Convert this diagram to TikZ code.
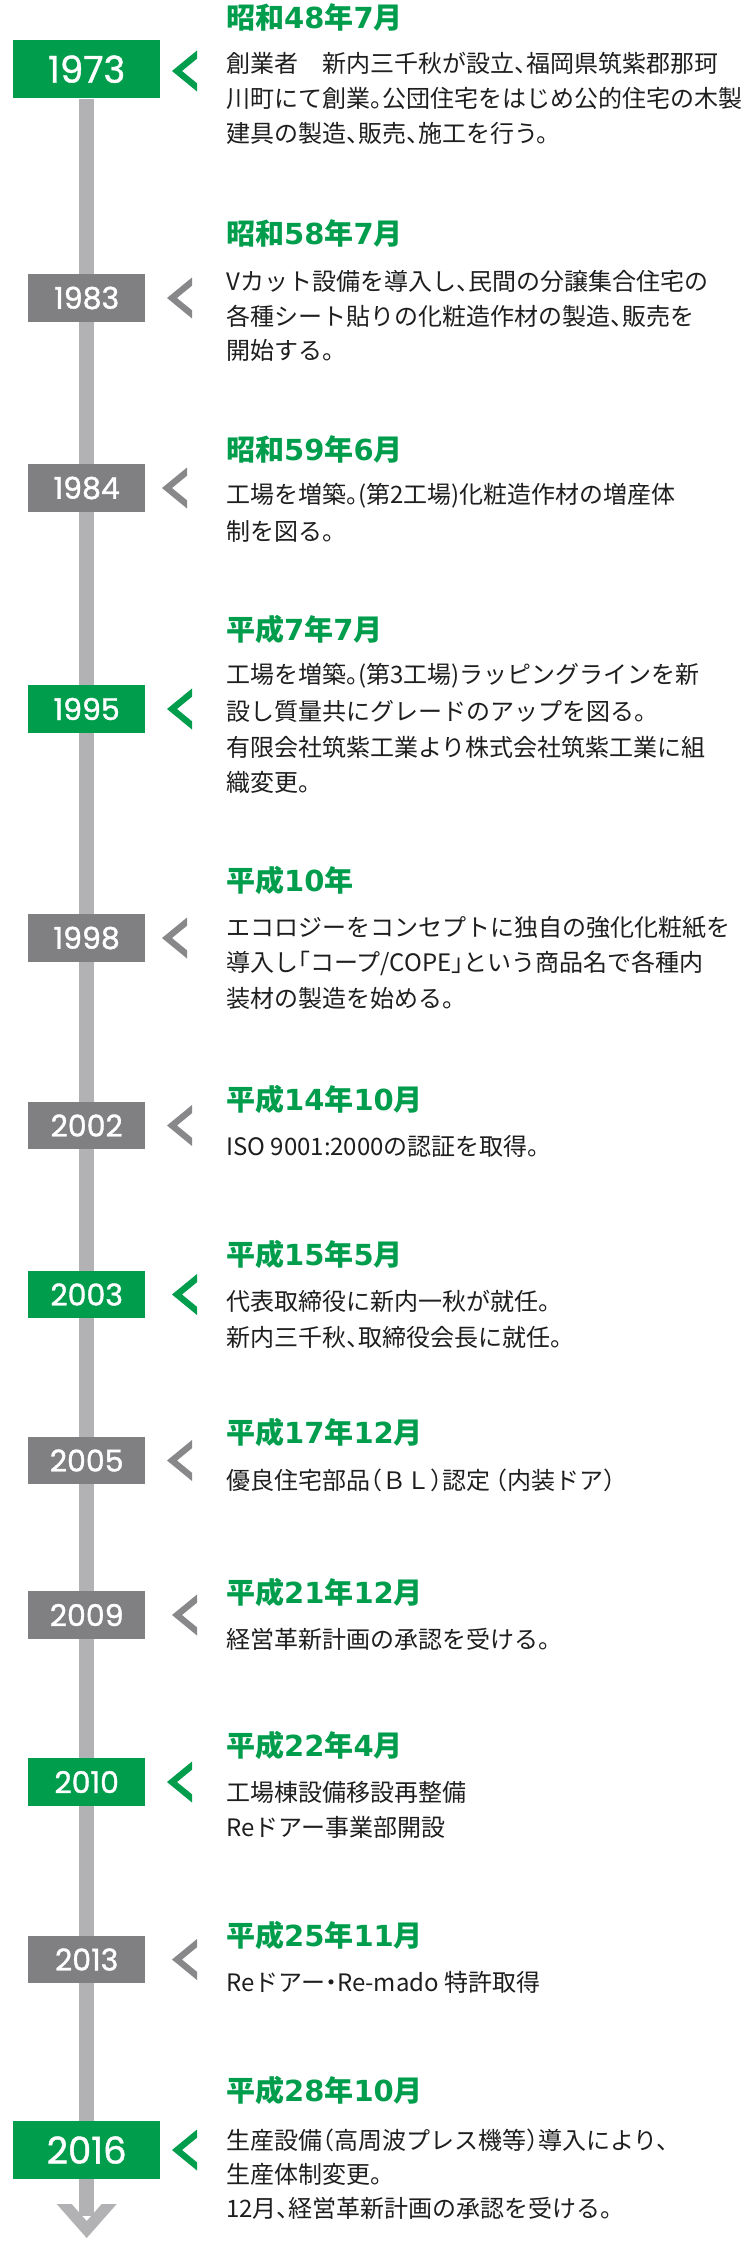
\documentclass[tikz,border=0pt]{standalone}
\usepackage{fontspec}
\usetikzlibrary{backgrounds}
\newfontfamily\jp{Noto Sans CJK JP}[RawFeature={+halt}]
\newfontfamily\jpt{Noto Sans CJK JP}
\newfontfamily\yr{Poppins}[FakeBold=1.2]
\newfontfamily\yrb{DejaVu Sans}
\definecolor{tgreen}{RGB}{0,157,76}
\definecolor{tgray}{RGB}{128,128,130}
\definecolor{lgray}{RGB}{178,178,180}
\definecolor{cgray}{RGB}{136,136,138}
\definecolor{ink}{RGB}{30,30,30}
\newcommand{\dg}[1]{{\yrb\bfseries\fontsize{29bp}{29bp}\selectfont #1}}
\newcommand{\chev}[3]{\fill[#3] ({#1},{#2-20.5}) -- ({#1-25},{#2}) -- ({#1},{#2+20.5}) -- ({#1},{#2+12.3}) -- ({#1-15},{#2}) -- ({#1},{#2-12.3}) -- cycle;}
\tikzset{
  ev/.style={anchor=west, inner sep=0pt, text=ink, font=\jp\fontsize{24bp}{24bp}\selectfont},
  ttl/.style={anchor=west, inner sep=0pt, text=tgreen, font=\jpt\bfseries\fontsize{29bp}{29bp}\selectfont},
  bigyr/.style={fill=tgreen, minimum width=146.7bp, minimum height=58.3bp, inner sep=0pt, text=white, font=\yr\fontsize{37bp}{37bp}\selectfont},
  yrg/.style={fill=tgreen, minimum width=116.7bp, minimum height=47.5bp, inner sep=0pt, text=white, font=\yr\fontsize{30bp}{30bp}\selectfont},
  yrk/.style={yrg, fill=tgray},
}
\begin{document}
\begin{tikzpicture}[x=1bp, y={(0bp,-1bp)}]
\useasboundingbox (0,0) rectangle (752,2242);

% year boxes
\node[bigyr] (y1973) at (86.7,69.2) {1973};
\node[yrk] (y1983) at (86.7,298) {1983};
\node[yrk] (y1984) at (86.7,488) {1984};
\node[yrg] (y1995) at (86.7,709) {1995};
\node[yrk] (y1998) at (86.7,938) {1998};
\node[yrk] (y2002) at (86.7,1125.5) {2002};
\node[yrg] (y2003) at (86.7,1294.5) {2003};
\node[yrk] (y2005) at (86.7,1460.5) {2005};
\node[yrk] (y2009) at (86.7,1615) {2009};
\node[yrg] (y2010) at (86.7,1782) {2010};
\node[yrk] (y2013) at (86.7,1959.5) {2013};
\node[bigyr] (y2016) at (86.7,2150) {2016};

% axis
\coordinate (axisend) at (86.7,2216);
\begin{scope}[on background layer]
\draw[lgray, line width=14.7bp] (y1973.south) -- (axisend);
\fill[lgray] (56.7,2204) -- (71.7,2204) -- (86.7,2221) -- (101.7,2204) -- (116.7,2204) -- (86.7,2238) -- cycle;
\end{scope}

% chevrons
\chev{197}{71}{tgreen}
\chev{192}{298}{cgray}
\chev{187}{488}{cgray}
\chev{192}{709}{tgreen}
\chev{187}{938}{cgray}
\chev{192}{1125.5}{cgray}
\chev{197}{1294.5}{tgreen}
\chev{192}{1460.5}{cgray}
\chev{197}{1615}{cgray}
\chev{192}{1782}{tgreen}
\chev{197}{1959.5}{cgray}
\chev{197}{2150}{tgreen}

% titles and texts
\node[ttl] (t1) at (226,17.5) {昭和\dg{48}年\dg{7}月};
\node[ev] (b1a) at (226,63) {創業者　新内三千秋が設立、福岡県筑紫郡那珂};
\node[ev] (b1b) at (226,98) {川町にて創業。公団住宅をはじめ公的住宅の木製};
\node[ev] (b1c) at (226,133) {建具の製造、販売、施工を行う。};

\node[ttl] (t2) at (226,233.5) {昭和\dg{58}年\dg{7}月};
\node[ev] (b2a) at (226,281) {Vカット設備を導入し、民間の分譲集合住宅の};
\node[ev] (b2b) at (226,316) {各種シート貼りの化粧造作材の製造、販売を};
\node[ev] (b2c) at (226,350) {開始する。};

\node[ttl] (t3) at (226,449.5) {昭和\dg{59}年\dg{6}月};
\node[ev] (b3a) at (226,496) {工場を増築。(第2工場)化粧造作材の増産体};
\node[ev] (b3b) at (226,531.5) {制を図る。};

\node[ttl] (t4) at (226,629) {平成\dg{7}年\dg{7}月};
\node[ev] (b4a) at (226,676) {工場を増築。(第3工場)ラッピングラインを新};
\node[ev] (b4b) at (226,711) {設し質量共にグレードのアップを図る。};
\node[ev] (b4c) at (226,747) {有限会社筑紫工業より株式会社筑紫工業に組};
\node[ev] (b4d) at (226,782) {織変更。};

\node[ttl] (t5) at (226,880.5) {平成\dg{10}年};
\node[ev] (b5a) at (226,928) {エコロジーをコンセプトに独自の強化化粧紙を};
\node[ev] (b5b) at (226,963) {導入し「コープ/COPE」という商品名で各種内};
\node[ev] (b5c) at (226,998) {装材の製造を始める。};

\node[ttl] (t6) at (226,1099.5) {平成\dg{14}年\dg{10}月};
\node[ev] (b6a) at (226,1146) {ISO 9001:2000の認証を取得。};

\node[ttl] (t7) at (226,1254.5) {平成\dg{15}年\dg{5}月};
\node[ev] (b7a) at (226,1301) {代表取締役に新内一秋が就任。};
\node[ev] (b7b) at (226,1337) {新内三千秋、取締役会長に就任。};

\node[ttl] (t8) at (226,1432.5) {平成\dg{17}年\dg{12}月};
\node[ev] (b8a) at (226,1480) {優良住宅部品（ＢＬ）認定 （内装ドア）};

\node[ttl] (t9) at (226,1592) {平成\dg{21}年\dg{12}月};
\node[ev] (b9a) at (226,1639) {経営革新計画の承認を受ける。};

\node[ttl] (t10) at (226,1745.5) {平成\dg{22}年\dg{4}月};
\node[ev] (b10a) at (226,1792.5) {工場棟設備移設再整備};
\node[ev] (b10b) at (226,1827.5) {Reドアー事業部開設};

\node[ttl] (t11) at (226,1935.5) {平成\dg{25}年\dg{11}月};
\node[ev] (b11a) at (226,1982.5) {Reドアー・Re-mado 特許取得};

\node[ttl] (t12) at (226,2090.5) {平成\dg{28}年\dg{10}月};
\node[ev] (b12a) at (226,2140) {生産設備（高周波プレス機等）導入により、};
\node[ev] (b12b) at (226,2174) {生産体制変更。};
\node[ev] (b12c) at (226,2208) {12月、経営革新計画の承認を受ける。};
\end{tikzpicture}
\end{document}
